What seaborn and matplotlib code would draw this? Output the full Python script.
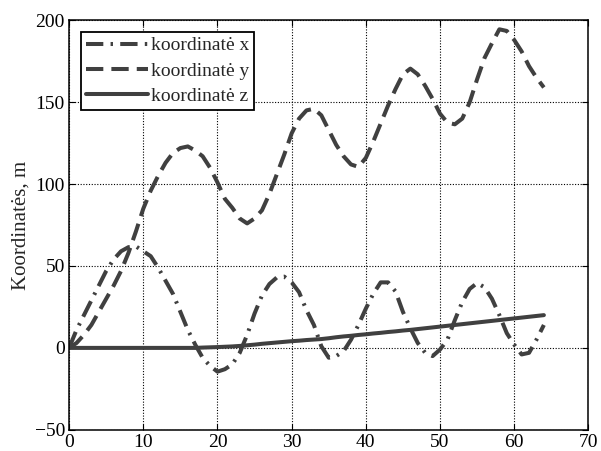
import matplotlib
matplotlib.use("Agg")
import matplotlib.pyplot as plt
import seaborn as sns
import pandas as pd

# time axis, values
t = list(range(0, 65))

coord_x = [0, 11, 20, 29, 38, 47, 54, 59, 61.5, 62, 59, 56, 49, 41, 33, 22,
           11, 2, -6, -11, -14.5, -13, -10, -3, 8, 21, 32, 39, 43, 43.5, 40,
           34, 23, 14, 1, -6, -5, -2, 5, 14, 24, 33, 40, 40, 34.5, 22, 12, 3,
           -3, -5, -1, 5, 17, 28, 36, 39.6, 37, 30, 20, 9, 2, -4, -3, 5, 14]

coord_y = [0, 3, 8, 14, 22, 30, 38, 47, 58, 71, 85, 96, 105, 113, 119, 122,
           123, 120.5, 117, 110, 101, 91, 85.5, 79, 76, 79, 84, 94, 106, 118,
           131, 140, 145, 146, 142, 133, 124, 117, 112, 110.5, 116, 126, 137,
           148, 158, 167, 170.5, 167, 160, 152, 143, 137.5, 136.5, 140, 150,
           164, 177, 186, 194.5, 193.5, 188, 181, 172, 165, 159]

coord_z = [0, 0, 0, 0, 0, 0, 0, 0, 0, 0, 0, 0, 0, 0, 0, 0, 0, 0, 0.2, 0.35,
           0.5, 0.7, 0.9, 1.2, 1.6, 2.0, 2.5, 2.9, 3.3, 3.7, 4.1, 4.4, 4.8,
           5.1, 5.4, 5.9, 6.5, 7.0, 7.4, 7.9, 8.3, 8.8, 9.2, 9.7, 10.1, 10.6,
           11.0, 11.5, 12.0, 12.5, 13.0, 13.5, 14.0, 14.5, 15.0, 15.5, 16.0,
           16.5, 17.0, 17.5, 18.0, 18.5, 19.0, 19.5, 20.0]

labels = ["koordinatė x", "koordinatė y", "koordinatė z"]
styles = [(0, (4.3, 1.8, 0.6, 1.8)), (0, (4.3, 2.0)), "-"]

df = pd.DataFrame({"t": t, labels[0]: coord_x, labels[1]: coord_y, labels[2]: coord_z})

sns.set_style("ticks")
plt.rcParams["font.family"] = ["Liberation Serif", "DejaVu Serif"]

fig = plt.figure(figsize=(6.01, 4.51), dpi=100)
ax = fig.add_axes([0.115, 0.047, 0.864, 0.908])

line_color = "#404040"
for lab, ls in zip(labels, styles):
    sns.lineplot(data=df, x="t", y=lab, ax=ax, color=line_color, linewidth=2.9,
                 linestyle=ls, label=lab)

ax.set_xlim(0, 70)
ax.set_ylim(-50, 200)
ax.set_xticks(range(0, 71, 10))
ax.set_yticks(range(-50, 201, 50))
ax.set_xlabel("")
ax.set_ylabel("Koordinatės, m", fontsize=15, labelpad=3)
ax.tick_params(direction="in", top=True, right=True, labelsize=14, length=4,
               width=0.8, colors="black", pad=3)
ax.grid(True, color="black", linestyle=(0, (1, 1.5)), linewidth=0.8)
for sp in ax.spines.values():
    sp.set_linewidth(1.1)
    sp.set_color("black")

leg = ax.legend(loc="upper left", fontsize=14, frameon=True, fancybox=False,
                edgecolor="black", framealpha=1, handlelength=3.2,
                borderpad=0.25, labelspacing=0.4, handletextpad=0.15,
                borderaxespad=0.6)
leg.get_frame().set_linewidth(1.3)

fig.savefig("out.png", dpi=100)
